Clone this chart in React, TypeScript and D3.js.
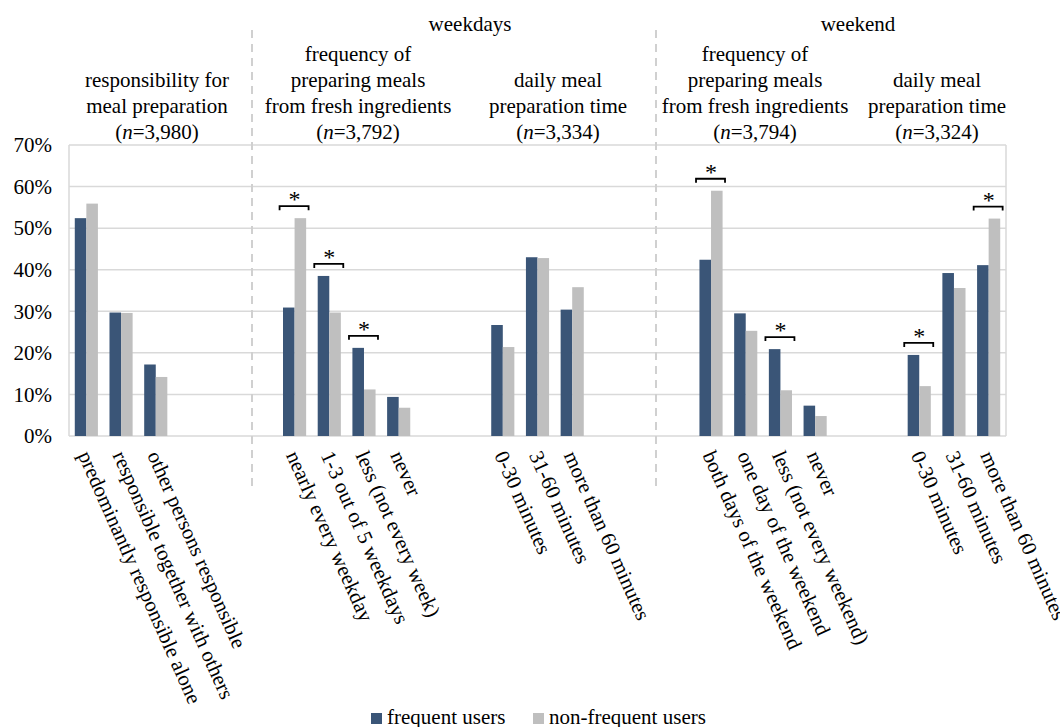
import React, { useEffect, useRef } from "react"
import * as d3 from "d3"

// one entry per category slot; "" slots are the spacers between blocks (like the blank rows in the sheet)
const categories = [
  "predominantly responsible alone", "responsible together with others", "other persons responsible", "", "", "",
  "nearly every weekday", "1-3 out of 5 weekdays", "less (not every week)", "never", "", "",
  "0-30 minutes", "31-60 minutes", "more than 60 minutes", "", "", "",
  "both days of the weekend", "one day of the weekend", "less (not every weekend)", "never", "", "",
  "0-30 minutes", "31-60 minutes", "more than 60 minutes",
]
const frequentUsers = [
  52.4, 29.7, 17.2, null, null, null,
  30.9, 38.5, 21.2, 9.4, null, null,
  26.7, 43.0, 30.4, null, null, null,
  42.4, 29.5, 20.9, 7.3, null, null,
  19.5, 39.2, 41.1,
]
const nonFrequentUsers = [
  55.9, 29.6, 14.2, null, null, null,
  52.4, 29.7, 11.2, 6.8, null, null,
  21.4, 42.8, 35.8, null, null, null,
  59.0, 25.3, 11.0, 4.8, null, null,
  12.0, 35.6, 52.3,
]
// slots where the difference is marked with *
const significantIdx = [6, 7, 8, 18, 20, 24, 26]

const seriesNames = ["frequent users", "non-frequent users"]
const yTicks = [0, 10, 20, 30, 40, 50, 60, 70]

const sectionTitles = ["weekdays", "weekend"]
const blockTitles = [
  { lines: ["responsibility for", "meal preparation"], n: "3,980" },
  { lines: ["frequency of", "preparing meals", "from fresh ingredients"], n: "3,792" },
  { lines: ["daily meal", "preparation time"], n: "3,334" },
  { lines: ["frequency of", "preparing meals", "from fresh ingredients"], n: "3,794" },
  { lines: ["daily meal", "preparation time"], n: "3,324" },
]

const W = 1060, H = 727
const margin = { left: 69, right: 54, top: 145, bottom: 291 }
const FONT = '"Liberation Serif", "DejaVu Serif", serif'
const colors = ["#3a5577", "#bfbfbf"]

export default function App() {
  const ref = useRef<SVGSVGElement>(null)

  useEffect(() => {
    const svg = d3.select(ref.current)
    svg.selectAll("*").remove()
    const g = svg.append("g").attr("fill", "#000")

    const x0 = W - margin.right
    const y0 = H - margin.bottom
    const x = d3.scaleBand<number>().domain(d3.range(categories.length)).range([margin.left, x0])
    const xs = d3.scaleBand<number>().domain([0, 1]).range([0, x.bandwidth()]).paddingOuter(0.5)
    const y = d3.scaleLinear().domain([0, 70]).range([y0, margin.top])

    const txt = (sel: any) => sel.attr("font-family", FONT).attr("font-size", 21)

    // grid + plot border
    g.selectAll(".grid").data(yTicks).join("line").attr("class", "grid")
      .attr("x1", margin.left).attr("x2", x0).attr("y1", d => y(d)).attr("y2", d => y(d))
      .attr("stroke", "#d9d9d9").attr("stroke-width", 1.5)
    g.append("line").attr("x1", margin.left).attr("x2", margin.left).attr("y1", y(70)).attr("y2", y(0))
      .attr("stroke", "#d9d9d9").attr("stroke-width", 1.5)
    g.append("line").attr("x1", x0).attr("x2", x0).attr("y1", y(70)).attr("y2", y(0))
      .attr("stroke", "#d9d9d9").attr("stroke-width", 1.5)

    g.selectAll(".ylab").data(yTicks).join("text").attr("class", "ylab")
      .attr("x", 52).attr("y", d => y(d)).attr("dy", "0.35em").attr("text-anchor", "end")
      .call(txt).text(d => d + "%")

    // separators between sections
    const seps = [252, 656]
    g.selectAll(".sep").data(seps).join("line").attr("class", "sep")
      .attr("x1", d => d).attr("x2", d => d).attr("y1", 30).attr("y2", 488)
      .attr("stroke", "#d0d0d0").attr("stroke-width", 2).attr("stroke-dasharray", "8,6")

    // bars
    const allSeries = [frequentUsers, nonFrequentUsers]
    allSeries.forEach((vals, s) => {
      g.append("g").selectAll("rect").data(vals.map((v, i) => ({ v, i })).filter(d => d.v != null)).join("rect")
        .attr("x", d => x(d.i)! + xs(s)!).attr("width", xs.bandwidth())
        .attr("y", d => y(d.v as number)).attr("height", d => y0 - y(d.v as number))
        .attr("fill", colors[s])
    })

    // significance brackets
    significantIdx.forEach(i => {
      const cx = x(i)! + x.bandwidth() / 2
      const top = y(Math.max(frequentUsers[i] as number, nonFrequentUsers[i] as number)) - 12
      g.append("path").attr("d", `M${cx - 15},${top + 4}V${top}H${cx + 14}V${top + 4}`)
        .attr("fill", "none").attr("stroke", "#000").attr("stroke-width", 1.8)
      g.append("text").attr("x", cx).attr("y", top + 1).attr("text-anchor", "middle")
        .attr("font-family", FONT).attr("font-size", 24).text("*")
    })

    // rotated category labels
    categories.forEach((c, i) => {
      if (!c) return
      const cx = x(i)! + x.bandwidth() / 2 - 2
      g.append("text").attr("transform", `translate(${cx},452) rotate(66)`)
        .attr("dy", "0.35em").call(txt).text(c)
    })

    // headers
    const sectionX = [470, 858]
    sectionTitles.forEach((t, i) => {
      g.append("text").attr("x", sectionX[i]).attr("y", 31).attr("text-anchor", "middle")
        .call(txt).text(t)
    })
    const blockX = [157, 358, 558, 755, 937]
    blockTitles.forEach((b, i) => {
      const n = b.lines.length + 1
      const t = g.append("text").attr("text-anchor", "middle").call(txt)
      b.lines.forEach((l, k) => {
        t.append("tspan").attr("x", blockX[i]).attr("y", 139 - (n - 1 - k) * 26).text(l)
      })
      const last = t.append("tspan").attr("x", blockX[i]).attr("y", 139)
      last.append("tspan").text("(")
      last.append("tspan").attr("font-style", "italic").text("n")
      last.append("tspan").text(`=${b.n})`)
    })

    // legend
    const legX = [371, 533]
    seriesNames.forEach((s, i) => {
      g.append("rect").attr("x", legX[i]).attr("y", 713).attr("width", 11).attr("height", 11).attr("fill", colors[i])
      g.append("text").attr("x", legX[i] + 16).attr("y", 724).call(txt).text(s)
    })
  }, [])

  return (
    <svg ref={ref} width={W} height={H} style={{ position: "absolute", left: 0, top: 0, background: "#fff" }} />
  )
}
